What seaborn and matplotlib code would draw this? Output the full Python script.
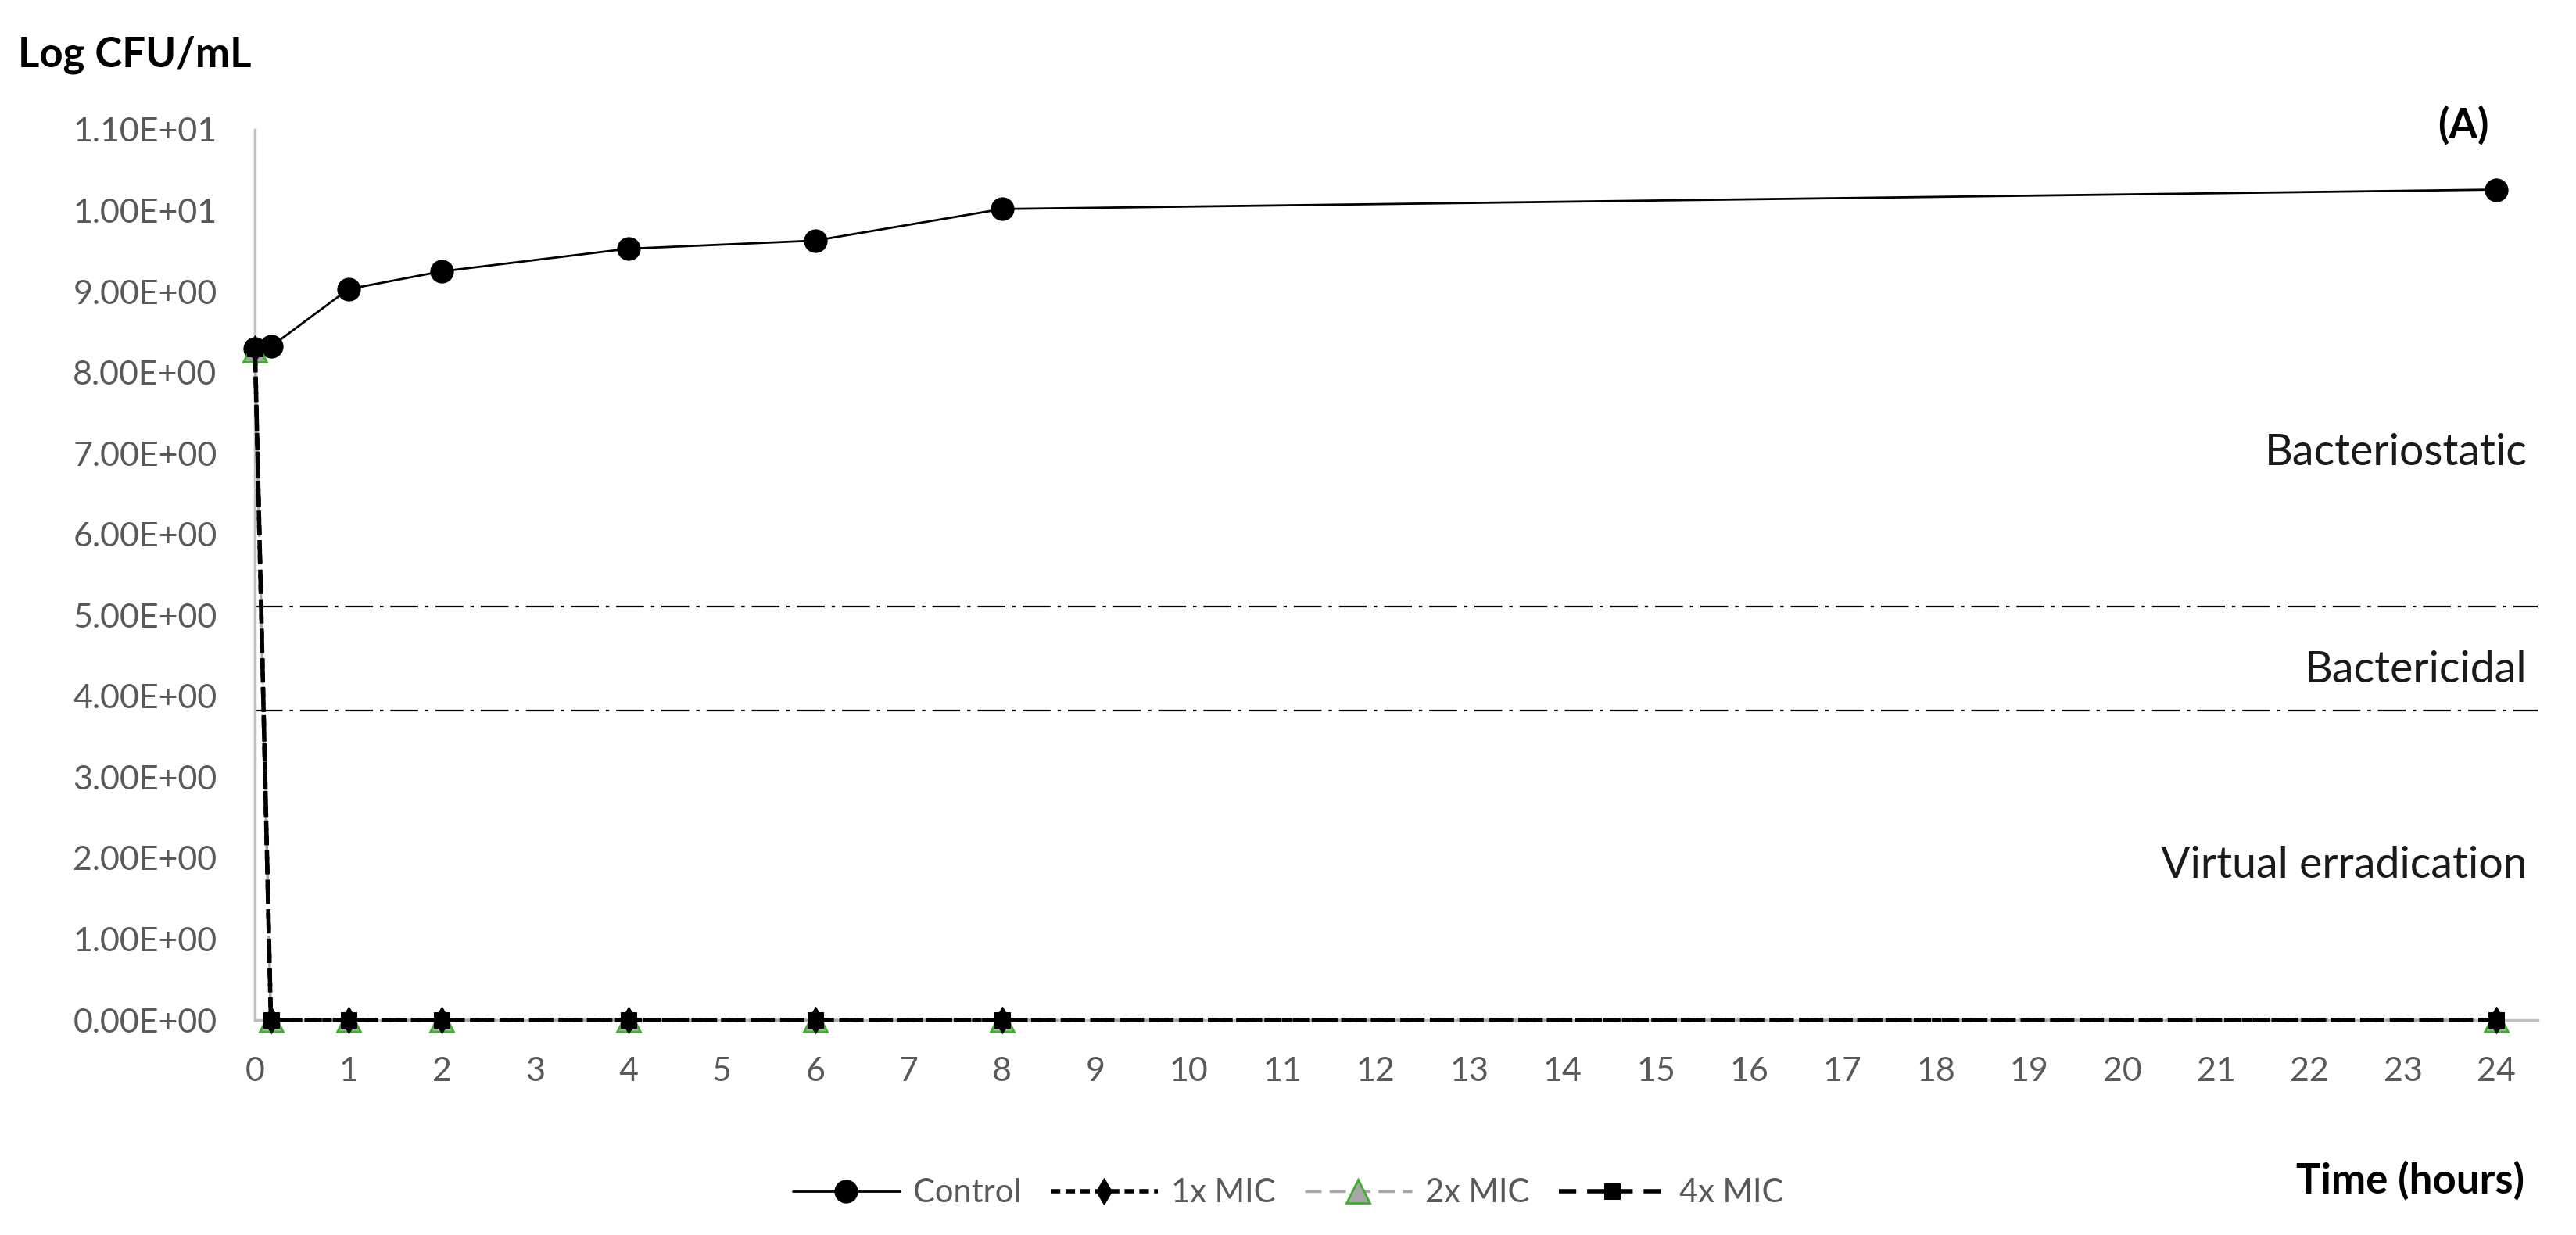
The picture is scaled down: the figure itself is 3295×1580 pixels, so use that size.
import numpy as np
import matplotlib
matplotlib.use("Agg")
import matplotlib.pyplot as plt
import seaborn as sns

# time points (hours) and log CFU/mL
time_h = [0, 0.17, 1, 2, 4, 6, 8, 24]
control = [8.30, 8.32, 9.03, 9.25, 9.53, 9.63, 10.02, 10.26]
mic_1x = [8.30, 0, 0, 0, 0, 0, 0, 0]
mic_2x = [8.28, 0, 0, 0, 0, 0, 0, 0]
mic_4x = [8.30, 0, 0, 0, 0, 0, 0, 0]

# threshold lines and zone labels
thresholds = [5.11, 3.82]
zone_labels = ["Bacteriostatic", "Bactericidal", "Virtual erradication"]
zone_y = [6.86, 4.17, 1.76]

x_ticks = list(range(0, 25))
y_ticks = [0, 1, 2, 3, 4, 5, 6, 7, 8, 9, 10, 11]

sns.set_theme(style="white")
plt.rcParams['font.family'] = ['Lato', 'DejaVu Sans']

grey_txt = "#595959"

fig = plt.figure(figsize=(32.95, 15.80), dpi=100)
ax = fig.add_axes([0.099, 0.174, 0.886, 0.721])

sns.lineplot(x=time_h, y=control, ax=ax, color="black", lw=2,
             marker="o", markersize=21, markeredgecolor="black",
             label="Control", zorder=3, clip_on=False)
sns.lineplot(x=time_h, y=mic_1x, ax=ax, color="black", lw=4,
             linestyle=(0, (2.2, 1.2)), marker="d", markersize=17,
             markeredgecolor="black", label="1x MIC", zorder=5, clip_on=False)
sns.lineplot(x=time_h, y=mic_2x, ax=ax, color="#A6A6A6", lw=2.5,
             linestyle=(0, (6, 3)), marker="^", markersize=21,
             markerfacecolor="#A6A6A6", markeredgecolor="#3DAE2B",
             markeredgewidth=2, label="2x MIC", zorder=4, clip_on=False)
sns.lineplot(x=time_h, y=mic_4x, ax=ax, color="black", lw=4,
             linestyle=(0, (4, 2.5)), marker="s", markersize=15,
             markeredgecolor="black", label="4x MIC", zorder=6, clip_on=False)

for t in thresholds:
    ax.axhline(t, color="black", lw=1.6, linestyle=(0, (16, 4, 2, 4)),
               zorder=2)

for lab, yy in zip(zone_labels, zone_y):
    ax.text(24.33, yy, lab, ha="right", va="baseline", fontsize=40,
            color="#1a1a1a")

ax.text(23.65, 11.06, "(A)", ha="center", va="center", fontsize=38,
        fontweight="bold", color="black", clip_on=False)

ax.set_xlim(0, 24.44)
ax.set_ylim(0, 11)
ax.set_xticks(x_ticks)
ax.set_yticks(y_ticks)
ax.set_yticklabels([f"{v:.2E}" for v in y_ticks])
ax.tick_params(axis="both", length=0, labelsize=31, labelcolor=grey_txt)
ax.tick_params(axis="y", pad=35)
ax.tick_params(axis="x", pad=34)
ax.set_xlabel("")
ax.set_ylabel("")

for s in ["top", "right"]:
    ax.spines[s].set_visible(False)
ax.spines["left"].set_color("#BFBFBF")
ax.spines["left"].set_linewidth(2.5)
ax.spines["bottom"].set_color("#BFBFBF")
ax.spines["bottom"].set_linewidth(2.5)

handles, labels = ax.get_legend_handles_labels()
ax.get_legend().remove()
fig.legend(handles, labels, loc="center", bbox_to_anchor=(0.50, 0.034),
           ncol=4, frameon=False, fontsize=30, handlelength=3.3,
           handletextpad=0.4, columnspacing=0.9, labelcolor=grey_txt)

fig.text(0.007, 0.946, "Log CFU/mL", ha="left", va="baseline", fontsize=38,
         fontweight="bold", color="black")
fig.text(0.980, 0.034, "Time (hours)", ha="right", va="baseline",
         fontsize=38, fontweight="bold", color="black")

plt.savefig("out.png", dpi=100)
